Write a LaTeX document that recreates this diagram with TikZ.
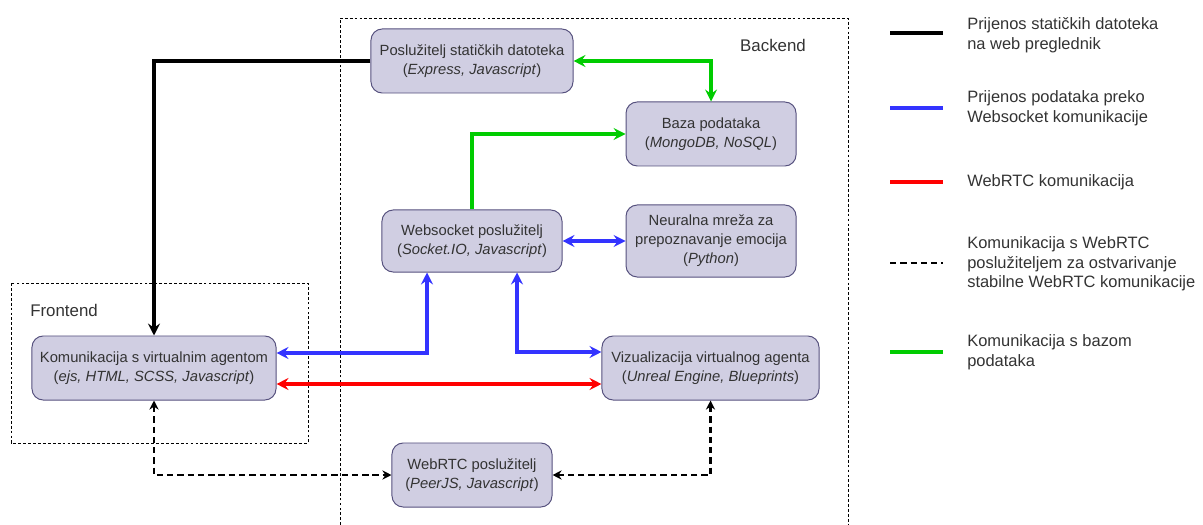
\documentclass[tikz,border=0pt]{standalone}
\usepackage{fontspec}
\setmainfont{Liberation Sans}
\usepackage{tikz}
\usetikzlibrary{arrows.meta,positioning,calc}
\definecolor{agfill}{RGB}{208,206,226}
\definecolor{agdraw}{RGB}{86,81,126}
\definecolor{agtext}{RGB}{51,51,51}
\definecolor{agblue}{RGB}{51,51,255}
\definecolor{agred}{RGB}{255,0,0}
\definecolor{aggreen}{RGB}{0,204,0}
\tikzstyle{compbox} = [rectangle, rounded corners=8pt, draw=agdraw, fill=agfill, line width=0.7pt, text=agtext, align=center, font=\fontsize{10.5}{13.4}\selectfont, minimum height=1.6cm, inner sep=2pt]
\tikzstyle{groupbox} = [line width=0.6pt, dash pattern=on 2pt off 1.5pt, color=black]
\tikzstyle{grouplabel} = [text=agtext, font=\fontsize{12}{14}\selectfont, inner sep=0pt]
\tikzstyle{legtext} = [anchor=west, align=left, inner sep=0pt, text=agtext, font=\fontsize{11.7}{14}\selectfont]
\tikzstyle{tipped} = [>={Stealth[length=8.5pt,width=8.5pt,inset=3pt]}]
\tikzstyle{staticline} = [tipped, ->, line width=2.2pt, color=black]
\tikzstyle{wsline} = [tipped, line width=2.3pt, color=agblue]
\tikzstyle{rtcline} = [tipped, line width=2.3pt, color=agred]
\tikzstyle{dbline} = [tipped, line width=2.3pt, color=aggreen]
\tikzstyle{signalline} = [>={Stealth[length=6.5pt,width=6.5pt,inset=2.2pt]}, line width=1.7pt, dash pattern=on 4.5pt off 2.8pt, color=black]

\begin{document}
\begin{tikzpicture}[x=0.025cm, y=-0.025cm]
\useasboundingbox (0,0) rectangle (1203,525);

% Groups
\draw[groupbox] (11,283) rectangle (308,443);
\draw[groupbox] (340,530) -- (340,18) -- (848,18) -- (848,530);
\node[grouplabel, anchor=west] (fronttitle) at (30,310) {Frontend};
\node[grouplabel] (backtitle) at (773,45) {Backend};

% Backend components
\node[compbox, minimum width=5.05cm] (stat) at (472,61) {Poslužitelj statičkih datoteka\\(\textit{Express, Javascript})};
\node[compbox, minimum width=4.5cm, minimum height=1.55cm] (ws) at (472,241) {Websocket poslužitelj\\(\textit{Socket.IO, Javascript})};
\node[compbox, minimum width=4.25cm, minimum height=1.8cm, right=1.575cm of ws] (nn) {Neuralna mreža za\\prepoznavanje emocija\\(\textit{Python})};
\node[compbox, minimum width=4.25cm, above=0.95cm of nn] (db) {Baza podataka\\(\textit{MongoDB, NoSQL})};
\node[compbox, minimum width=5.425cm] (viz) at (710.5,368) {Vizualizacija virtualnog agenta\\(\textit{Unreal Engine, Blueprints})};
\node[compbox, minimum width=4cm] (rtc) at (472,475) {WebRTC poslužitelj\\(\textit{PeerJS, Javascript})};

% Frontend component
\node[compbox, minimum width=6.1cm] (agent) at (154,368) {Komunikacija s virtualnim agentom\\(\textit{ejs, HTML, SCSS, Javascript})};

% Static files
\draw[staticline] (stat.west) -| (agent.north);

% Database
\draw[dbline, <->] (stat.east) -| (db.north);
\draw[dbline, ->] (ws.north) |- (db.west);

% Websocket
\draw[wsline, <->] (ws.east) -- (nn.west);
\draw[wsline, <->] ($(agent.east)+(0,-15)$) -| ($(ws.south)+(-45,0)$);
\draw[wsline, <->] ($(ws.south)+(45,0)$) |- ($(viz.west)+(0,-16)$);

% WebRTC
\draw[rtcline, <->] ($(agent.east)+(0,16)$) -- ($(viz.west)+(0,16)$);
\draw[signalline, <->] (agent.south) |- (rtc.west);
\draw[signalline, <->] (viz.south) |- (rtc.east);

% Legend
\node[legtext] (leg1) at (967,35) {Prijenos statičkih datoteka\\na web preglednik};
\node[legtext] (leg2) at (967,108) {Prijenos podataka preko\\Websocket komunikacije};
\node[legtext] (leg3) at (967,182) {WebRTC komunikacija};
\node[legtext] (leg4) at (967,264) {Komunikacija s WebRTC\\poslužiteljem za ostvarivanje\\stabilne WebRTC komunikacije};
\node[legtext] (leg5) at (967,352) {Komunikacija s bazom\\podataka};
\draw[staticline, -] ($(leg1.west)+(-77,-2)$) -- ($(leg1.west)+(-24,-2)$);
\draw[wsline] ($(leg2.west)+(-77,0)$) -- ($(leg2.west)+(-24,0)$);
\draw[rtcline] ($(leg3.west)+(-77,0)$) -- ($(leg3.west)+(-24,0)$);
\draw[signalline] ($(leg4.west)+(-77,-1)$) -- ($(leg4.west)+(-24,-1)$);
\draw[dbline] ($(leg5.west)+(-77,0)$) -- ($(leg5.west)+(-24,0)$);
\end{tikzpicture}
\end{document}
